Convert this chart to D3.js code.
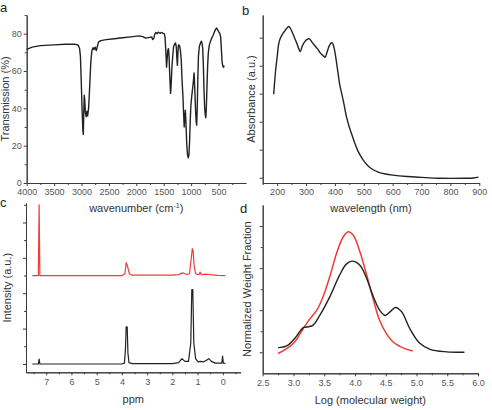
<!DOCTYPE html>
<html lang="en">
<head>
    <meta charset="UTF-8">
    <title>Spectra panels</title>
    <script src="https://d3js.org/d3.v7.min.js"></script>
    <style>
        body, html {
            margin: 0;
            background-color: #ffffff;
        }
        svg {
            display: block;
            font-family: Arial, 'Liberation Sans', sans-serif;
        }
        .domain, .tick line {
            stroke: #3a3a3a;
        }
        .tick text {
            fill: #555;
            font-size: 9px;
        }
    </style>
</head>
<body>
<svg id="chart" width="492" height="410"></svg>

<script>
    // a: IR spectrum
    const irWavenumber = [4000, 3900, 3750, 3500, 3300, 3120, 3060, 3035, 3020, 3005, 2990, 2975, 2967, 2958, 2950, 2942, 2930, 2915, 2900, 2888, 2870, 2850, 2830, 2810, 2790, 2770, 2750, 2730, 2712, 2690, 2650, 2550, 2400, 2250, 2100, 1950, 1880, 1830, 1760, 1720, 1700, 1680, 1660, 1640, 1620, 1600, 1570, 1540, 1510, 1490, 1475, 1460, 1448, 1438, 1425, 1413, 1403, 1390, 1375, 1365, 1350, 1335, 1320, 1300, 1285, 1270, 1258, 1250, 1240, 1230, 1210, 1195, 1180, 1165, 1150, 1138, 1126, 1115, 1105, 1095, 1080, 1065, 1052, 1040, 1028, 1015, 1005, 990, 975, 960, 945, 935, 920, 908, 898, 888, 878, 866, 850, 835, 815, 800, 788, 775, 765, 752, 740, 732, 722, 710, 698, 685, 667, 645, 625, 600, 580, 555, 535, 515, 495, 475, 460, 448, 435, 420, 405, 400];
    const irTransmission = [71.6, 72.8, 73.6, 74, 74.3, 74.4, 73.8, 72, 68, 55, 40, 28, 26, 38, 47, 45, 38, 35.5, 38.5, 36, 40, 52, 65, 71, 72.5, 71.5, 72.8, 71, 73, 75.5, 76.3, 76.8, 77.3, 77.8, 78.3, 78.8, 78.4, 77.6, 78, 78.3, 76.8, 77.5, 80, 80.6, 80, 80.8, 80.2, 80.7, 80.2, 80, 78, 70, 62, 66, 71, 72, 68, 58, 48, 52, 62, 68, 73, 74.5, 75, 73, 66, 63, 70, 74, 73.5, 71, 66, 55, 47, 38, 30, 36, 39, 33, 21, 15, 13.5, 15, 22, 34, 41, 46, 50, 54, 59, 52, 40, 33, 31, 40, 55, 68, 73, 74.5, 76, 75, 72, 62, 50, 40, 36, 35, 40, 52, 63, 70, 74, 76, 77.5, 79, 80.5, 82.3, 83, 82, 81, 80, 78, 72, 65, 62.5, 62, 63];
    const irYTicks = [0, 20, 40, 60, 80];
    const irXTicks = [4000, 3500, 3000, 2500, 2000, 1500, 1000, 500];

    // b: UV-vis absorbance
    const uvWavelength = [188, 192, 196, 200, 205, 210, 218, 225, 232, 240, 245, 252, 260, 268, 275, 280, 287, 295, 305, 312, 320, 330, 340, 350, 360, 366, 372, 380, 388, 393, 398, 403, 408, 416, 422, 430, 440, 450, 460, 470, 480, 490, 500, 515, 530, 550, 575, 600, 650, 700, 760, 850, 880, 897];
    const uvAbsorbance = [2.98, 3.5, 3.96, 4.3, 4.75, 4.95, 5.12, 5.22, 5.32, 5.4, 5.35, 5.2, 5.0, 4.8, 4.6, 4.5, 4.7, 4.85, 4.95, 4.96, 4.85, 4.72, 4.6, 4.45, 4.35, 4.3, 4.45, 4.7, 4.82, 4.78, 4.6, 4.3, 3.95, 3.37, 3.07, 2.7, 2.18, 1.8, 1.5, 1.2, 0.95, 0.76, 0.6, 0.42, 0.3, 0.2, 0.13, 0.09, 0.04, 0.01, -0.02, -0.02, -0.01, 0.02];
    const uvXTicks = [200, 300, 400, 500, 600, 700, 800, 900];

    // c: 1H NMR, two spectra (red offset above black)
    const nmrBlackPpm = [7.55, 7.31, 7.28, 7.25, 4.0, 3.9, 3.86, 3.83, 3.79, 3.76, 3.72, 3.6, 2.0, 1.75, 1.62, 1.5, 1.36, 1.27, 1.23, 1.19, 1.15, 1.08, 0.98, 0.88, 0.78, 0.66, 0.56, 0.45, 0.3, 0.04, 0.01, -0.02, -0.1];
    const nmrBlackInt = [0, 0, 0.27, 0, 0, 0.05, 0.8, 2.1, 2.1, 0.6, 0.08, 0.02, 0.02, 0.08, 0.3, 0.15, 0.15, 1.2, 4.2, 4.2, 1.2, 0.3, 0.12, 0.15, 0.12, 0.2, 0.3, 0.15, 0.05, 0.05, 0.45, 0.05, 0.03];
    const nmrRedPpm = [7.55, 7.31, 7.28, 7.25, 4.0, 3.88, 3.83, 3.79, 3.74, 3.7, 3.6, 2.0, 1.75, 1.6, 1.45, 1.32, 1.25, 1.21, 1.18, 1.14, 1.08, 0.95, 0.9, 0.86, 0.65, 0.5, 0.2, -0.1];
    const nmrRedInt = [5, 5, 9.0, 5, 5, 5.1, 5.73, 5.6, 5.3, 5.1, 5.02, 5.02, 5.05, 5.15, 5.07, 5.1, 6.0, 6.52, 6.4, 5.6, 5.1, 5.05, 5.2, 5.05, 5.08, 5.05, 5.01, 5.0];
    const nmrXTicks = [7, 6, 5, 4, 3, 2, 1, 0];

    // d: GPC molecular weight distribution
    const gpcBlackLogM = [2.75, 2.89, 3.02, 3.16, 3.24, 3.32, 3.43, 3.59, 3.75, 3.86, 3.95, 4.08, 4.19, 4.3, 4.4, 4.49, 4.57, 4.66, 4.76, 4.89, 5.05, 5.22, 5.49, 5.78];
    const gpcBlackW = [0.22, 0.3, 0.65, 1.17, 1.21, 1.29, 1.76, 2.63, 3.67, 4.19, 4.33, 4.14, 3.51, 2.63, 2.0, 1.75, 1.92, 2.13, 1.92, 1.13, 0.44, 0.14, 0.02, 0];
    const gpcRedLogM = [2.75, 2.89, 3.02, 3.16, 3.27, 3.38, 3.48, 3.59, 3.7, 3.81, 3.89, 3.97, 4.08, 4.19, 4.3, 4.4, 4.51, 4.62, 4.78, 4.94];
    const gpcRedW = [-0.06, 0.17, 0.49, 1.13, 1.6, 2.0, 2.63, 3.59, 4.7, 5.49, 5.73, 5.57, 4.78, 3.67, 2.48, 1.52, 0.89, 0.49, 0.21, 0.06];
    const gpcXTicks = [2.5, 3.0, 3.5, 4.0, 4.5, 5.0, 5.5, 6.0];

    const black = '#222';
    const red = '#ef3b3b';

    const svg = d3.select('#chart');

    function zip(xs, ys) {
        return xs.map((x, i) => [x, ys[i]]);
    }

    function drawPanel(p) {
        const x = d3.scaleLinear().domain(p.xDomain).range(p.xRange);
        const y = d3.scaleLinear().domain(p.yDomain).range(p.yRange);
        const g = svg.append('g');

        const bottom = p.yRange[0];
        const left = p.xRange[0];

        // minor ticks first, major on top
        g.append('g')
            .attr('transform', `translate(0,${bottom})`)
            .call(d3.axisBottom(x).tickValues(p.xMinor).tickSize(2).tickSizeOuter(0).tickFormat(''));
        g.append('g')
            .attr('transform', `translate(0,${bottom})`)
            .call(d3.axisBottom(x).tickValues(p.xTicks).tickSize(3).tickSizeOuter(0).tickPadding(3)
                .tickFormat(p.xFormat));
        g.append('g')
            .attr('transform', `translate(${left},0)`)
            .call(d3.axisLeft(y).tickValues(p.yMinor).tickSize(2).tickSizeOuter(0).tickFormat(''));
        g.append('g')
            .attr('transform', `translate(${left},0)`)
            .call(d3.axisLeft(y).tickValues(p.yTicks).tickSize(3).tickSizeOuter(0).tickPadding(2)
                .tickFormat(p.yFormat || (() => '')));

        const line = d3.line()
            .x(d => x(d[0]))
            .y(d => y(d[1]))
            .curve(p.curve || d3.curveLinear);

        p.series.forEach(s => {
            g.append('path')
                .datum(s.data)
                .attr('fill', 'none')
                .attr('stroke', s.color)
                .attr('stroke-width', s.width || 1.2)
                .attr('stroke-linejoin', 'round')
                .attr('d', line);
        });

        // x title
        const xt = g.append('text')
            .attr('x', (p.xRange[0] + p.xRange[1]) / 2)
            .attr('y', p.xTitleY)
            .attr('text-anchor', 'middle')
            .style('font-size', '11px')
            .style('fill', '#333');
        p.xTitle(xt);

        // y title
        g.append('text')
            .attr('transform', `translate(${p.yTitleX},${(p.yRange[0] + p.yRange[1]) / 2}) rotate(-90)`)
            .attr('text-anchor', 'middle')
            .style('font-size', '11px')
            .style('fill', '#333')
            .text(p.yTitle);

        // panel letter
        g.append('text')
            .attr('x', p.letterX)
            .attr('y', p.letterY)
            .style('font-size', '13px')
            .style('fill', '#222')
            .text(p.letter);
    }

    const range = (a, b, step) => d3.range(a, b + step / 2, step);

    drawPanel({
        xDomain: [4000, 0], xRange: [26.7, 245.9],
        yDomain: [0, 90], yRange: [183, 15],
        xTicks: irXTicks, xMinor: range(250, 3750, 500),
        xFormat: d3.format('d'),
        yTicks: irYTicks, yMinor: [10, 30, 50, 70, 90],
        yFormat: d3.format('d'),
        series: [{ data: zip(irWavenumber, irTransmission), color: black, width: 1.4 }],
        xTitleY: 212,
        xTitle: t => {
            t.append('tspan').text('wavenumber (cm');
            t.append('tspan').attr('dy', -4).style('font-size', '7px').text('-1');
            t.append('tspan').attr('dy', 4).text(')');
        },
        yTitle: 'Transmission (%)', yTitleX: 9,
        letter: 'a', letterX: 0, letterY: 12
    });

    drawPanel({
        xDomain: [150, 900], xRange: [262.7, 479.3],
        yDomain: [-0.19, 5.81], yRange: [183, 15],
        xTicks: uvXTicks, xMinor: range(150, 850, 100),
        xFormat: d3.format('d'),
        yTicks: [0, 1, 2, 3, 4, 5], yMinor: [],
        series: [{ data: zip(uvWavelength, uvAbsorbance), color: black, width: 1.4 }],
        curve: d3.curveCatmullRom,
        xTitleY: 212,
        xTitle: t => t.text('wavelength (nm)'),
        yTitle: 'Absorbance (a.u.)', yTitleX: 255,
        letter: 'b', letterX: 242, letterY: 15
    });

    drawPanel({
        xDomain: [7.8, -0.7], xRange: [26, 240.5],
        yDomain: [-0.47, 9.1], yRange: [372.3, 203],
        xTicks: nmrXTicks, xMinor: [7.5, 6.5, 5.5, 4.5, 3.5, 2.5, 1.5, 0.5, -0.5],
        xFormat: d3.format('d'),
        yTicks: [0, 2, 4, 6, 8], yMinor: [1, 3, 5, 7, 9],
        series: [
            { data: zip(nmrRedPpm, nmrRedInt), color: red, width: 1.2 },
            { data: zip(nmrBlackPpm, nmrBlackInt), color: black, width: 1.2 }
        ],
        xTitleY: 403,
        xTitle: t => t.text('ppm'),
        yTitle: 'Intensity (a.u.)', yTitleX: 11,
        letter: 'c', letterX: 0, letterY: 207
    });

    drawPanel({
        xDomain: [2.5, 6.0], xRange: [262.7, 478],
        yDomain: [-1, 7], yRange: [373.3, 205],
        xTicks: gpcXTicks, xMinor: range(2.75, 5.75, 0.5),
        xFormat: d3.format('.1f'),
        yTicks: [0, 2, 4, 6], yMinor: [1, 3, 5],
        series: [
            { data: zip(gpcRedLogM, gpcRedW), color: red, width: 1.5 },
            { data: zip(gpcBlackLogM, gpcBlackW), color: black, width: 1.4 }
        ],
        curve: d3.curveCatmullRom,
        xTitleY: 404,
        xTitle: t => t.text('Log (molecular weight)'),
        yTitle: 'Normalized Weight Fraction', yTitleX: 251,
        letter: 'd', letterX: 240, letterY: 213
    });
</script>
</body>
</html>
